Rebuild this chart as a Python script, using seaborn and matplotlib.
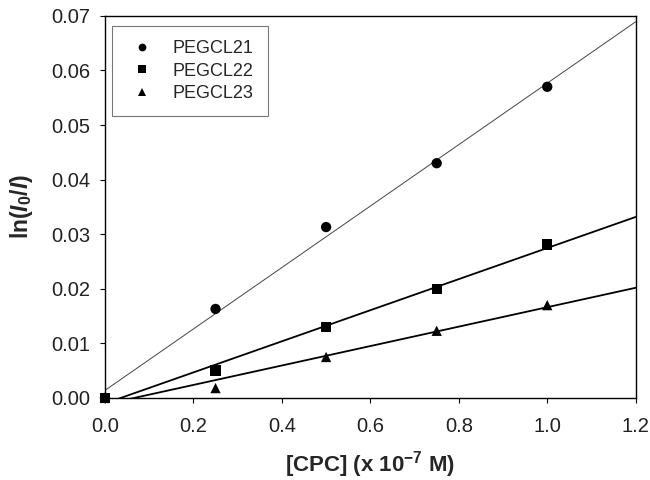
import numpy as np
import pandas as pd
import matplotlib
matplotlib.use('Agg')
import matplotlib.pyplot as plt
import seaborn as sns

# CPC concentration (x 1e-7 M) and ln(I0/I) for each copolymer
cpc = [0.0, 0.25, 0.5, 0.75, 1.0]
pegcl21 = [0.0, 0.0163, 0.0313, 0.0430, 0.0570]
pegcl22 = [0.0, 0.0050, 0.0130, 0.0200, 0.0281]
pegcl23 = [0.0, 0.0018, 0.0075, 0.0123, 0.0170]
names = ['PEGCL21', 'PEGCL22', 'PEGCL23']
x_ticks = [0.0, 0.2, 0.4, 0.6, 0.8, 1.0, 1.2]
y_ticks = [0.00, 0.01, 0.02, 0.03, 0.04, 0.05, 0.06, 0.07]

df = pd.DataFrame({'CPC': cpc * 3,
                   'lnI': pegcl21 + pegcl22 + pegcl23,
                   'sample': [n for n in names for _ in cpc]})

sns.set_style('ticks')
plt.rcParams['font.family'] = ['Liberation Sans', 'DejaVu Sans']
plt.rcParams['mathtext.fontset'] = 'custom'
plt.rcParams['mathtext.rm'] = 'Liberation Sans:bold'
plt.rcParams['mathtext.it'] = 'Liberation Sans:italic:bold'
plt.rcParams['mathtext.bf'] = 'Liberation Sans:bold'

fig = plt.figure(figsize=(6.5, 4.8), dpi=100)
ax = fig.add_axes([0.1615, 0.171, 0.8165, 0.796])

# linear fits drawn across the whole x range
xfit = np.array([0.0, 1.2])
line_styles = {'PEGCL21': (0.7, '#444444'), 'PEGCL22': (1.3, 'black'), 'PEGCL23': (1.3, 'black')}
for n in names:
    sub = df[df['sample'] == n]
    k, b = np.polyfit(sub['CPC'], sub['lnI'], 1)
    lw, c = line_styles[n]
    ax.plot(xfit, k * xfit + b, color=c, lw=lw, zorder=2)

sns.scatterplot(data=df, x='CPC', y='lnI', hue='sample', style='sample',
                markers={'PEGCL21': 'o', 'PEGCL22': 's', 'PEGCL23': '^'},
                palette=['black'] * 3, s=55, edgecolor='black', linewidth=0,
                ax=ax, zorder=3, clip_on=False)

ax.set_xlim(0, 1.2)
ax.set_ylim(0, 0.07)
ax.set_xticks(x_ticks)
ax.set_yticks(y_ticks)
ax.set_xticklabels([f'{t:.1f}' for t in x_ticks])
ax.set_yticklabels([f'{t:.2f}' for t in y_ticks])
ax.tick_params(direction='out', length=3.5, width=0.8, labelsize=14.5,
               color='black', labelcolor='#222222')
ax.tick_params(axis='x', pad=10)
ax.tick_params(axis='y', pad=7)
for s in ax.spines.values():
    s.set_visible(True)
    s.set_linewidth(1.0)
    s.set_color('black')

ax.set_xlabel('[CPC] (x 10$^{-7}$ M)', fontsize=16, fontweight='bold', va='top')
ax.xaxis.set_label_coords(0.5, -0.135)
ax.set_ylabel('ln($I_0$/$I$)', fontsize=16.5, fontweight='bold', va='center')
ax.yaxis.set_label_coords(-0.158, 0.5)

leg = ax.legend(loc='upper left', bbox_to_anchor=(0.013, 0.974), frameon=True,
                fancybox=False, edgecolor='#555555', fontsize=13,
                borderpad=0.8, handlelength=1.7, handletextpad=0.86, labelspacing=0.3,
                markerscale=0.75, borderaxespad=0)
leg.get_frame().set_linewidth(0.8)

fig.savefig('out.png', dpi=100)
